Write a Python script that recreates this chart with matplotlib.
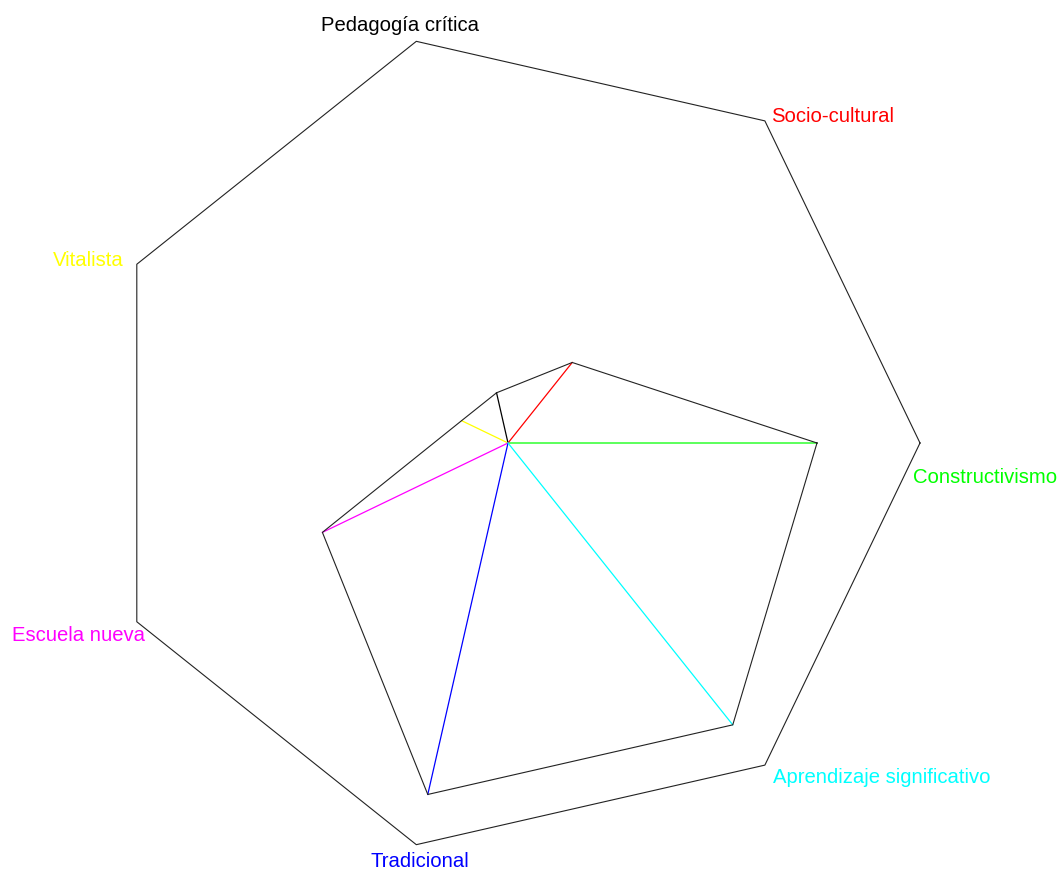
import numpy as np
import matplotlib
matplotlib.use("Agg")
import matplotlib.pyplot as plt

plt.rcParams['font.family'] = ['Liberation Sans', 'DejaVu Sans']

# axes, counter-clockwise starting at 3 o'clock
labels = ["Constructivismo", "Socio-cultural", "Pedagogía crítica", "Vitalista",
          "Escuela nueva", "Tradicional", "Aprendizaje significativo"]
values = [6, 2, 1, 1, 4, 7, 7]
max_value = 8
colors = ["#00ff00", "#ff0000", "#000000", "#ffff00", "#ff00ff", "#0000ff", "#00ffff"]

# label placement (ha, offset in pixels from outer vertex)
label_ha = ["left", "left", "center", "right", "right", "center", "left"]
label_off = [(-7, -40), (6, -1), (-16, 10), (-13, -2), (8, -19), (4, -22), (8, -18)]

n = len(labels)
ang = 2 * np.pi * np.arange(n) / n
r = np.array(values) / max_value
x = r * np.cos(ang)
y = r * np.sin(ang)
ox = np.cos(ang)
oy = np.sin(ang)

fig = plt.figure(figsize=(10.6, 8.71), dpi=100)
ax = fig.add_axes([0, 0, 1, 1])
R = 412.0
ax.set_xlim(-508 / R, (1060 - 508) / R)
ax.set_ylim(-428 / R, (871 - 428) / R)
ax.axis("off")

# outer frame
ax.plot(np.append(ox, ox[0]), np.append(oy, oy[0]), color="#222222", lw=0.8, snap=False)

# spokes
for i in range(n):
    ax.plot([0, x[i]], [0, y[i]], color=colors[i], lw=0.9, snap=False)

# data polygon
ax.plot(np.append(x, x[0]), np.append(y, y[0]), color="#222222", lw=0.8, snap=False)

for i in range(n):
    ax.annotate(labels[i], xy=(ox[i], oy[i]), xytext=label_off[i],
                textcoords="offset pixels", ha=label_ha[i], va="baseline",
                color=colors[i], fontsize=14.6)

fig.savefig("out.png", dpi=100)
